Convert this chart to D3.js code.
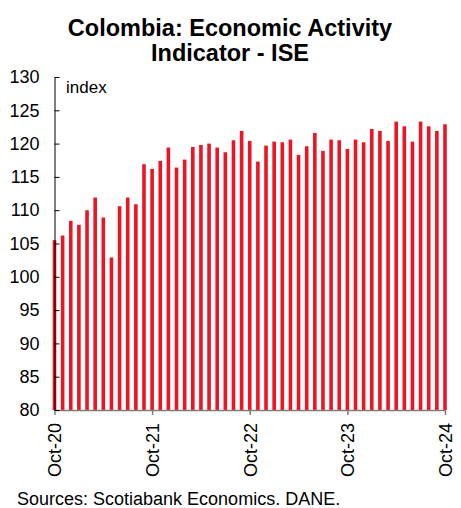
<!DOCTYPE html>
<html>
<head>
<meta charset="utf-8">
<script src="https://cdn.jsdelivr.net/npm/d3@7"></script>
<style>
  body { margin: 0; background: #fff; }
  text { font-family: "Liberation Sans", Arial, sans-serif; }
</style>
</head>
<body>
<div id="chart"></div>
<script>
// monthly ISE index, Oct-20 .. Oct-24
const months = ["Oct-20","Nov-20","Dec-20","Jan-21","Feb-21","Mar-21","Apr-21","May-21","Jun-21","Jul-21","Aug-21","Sep-21",
                "Oct-21","Nov-21","Dec-21","Jan-22","Feb-22","Mar-22","Apr-22","May-22","Jun-22","Jul-22","Aug-22","Sep-22",
                "Oct-22","Nov-22","Dec-22","Jan-23","Feb-23","Mar-23","Apr-23","May-23","Jun-23","Jul-23","Aug-23","Sep-23",
                "Oct-23","Nov-23","Dec-23","Jan-24","Feb-24","Mar-24","Apr-24","May-24","Jun-24","Jul-24","Aug-24","Sep-24",
                "Oct-24"];
const ise = [105.5, 106.2, 108.4, 107.8, 110.0, 111.9, 108.9, 102.9, 110.6, 111.9, 110.9, 116.9,
             116.2, 117.4, 119.4, 116.4, 117.6, 119.5, 119.8, 120.0, 119.4, 118.7, 120.5, 121.9,
             120.4, 117.3, 119.7, 120.3, 120.2, 120.6, 118.3, 119.6, 121.6, 118.9, 120.6, 120.5,
             119.2, 120.6, 120.2, 122.2, 121.9, 120.4, 123.3, 122.6, 120.3, 123.3, 122.6, 121.9,
             122.9];
const xTickLabels = ["Oct-20", "Oct-21", "Oct-22", "Oct-23", "Oct-24"];
const yTicks = [80, 85, 90, 95, 100, 105, 110, 115, 120, 125, 130];

const W = 461, H = 508;
const svg = d3.select("#chart").append("svg")
    .attr("width", W)
    .attr("height", H);

const x = d3.scalePoint()
    .domain(months)
    .range([54.5, 445]);

const y = d3.scaleLinear()
    .domain([80, 130])
    .range([410, 77]);

    // title
svg.append("text")
    .attr("x", 230).attr("y", 36)
    .attr("text-anchor", "middle")
    .style("font-size", "23.5px").style("font-weight", "bold")
    .text("Colombia: Economic Activity");
svg.append("text")
    .attr("x", 230).attr("y", 61)
    .attr("text-anchor", "middle")
    .style("font-size", "23.5px").style("font-weight", "bold")
    .text("Indicator - ISE");

    // bars
const barW = 3.6;
svg.selectAll("rect.bar")
    .data(ise)
    .enter()
    .append("rect")
    .attr("class", "bar")
    .attr("x", (d, i) => x(months[i]) - barW / 2)
    .attr("y", d => y(d))
    .attr("width", barW)
    .attr("height", d => y(80) - y(d))
    .attr("fill", "#ec1523");

    // x axis
const gx = svg.append("g")
    .attr("transform", `translate(0,${y(80)})`)
    .call(d3.axisBottom(x).tickValues(xTickLabels).tickSize(5).tickPadding(8).tickSizeOuter(0));
gx.select(".domain").attr("stroke", "#7f7f7f").attr("stroke-width", 1.5);
gx.selectAll(".tick line").attr("stroke", "#7f7f7f").attr("stroke-width", 1.5);
gx.selectAll(".tick text")
    .attr("transform", "rotate(-90)")
    .attr("x", -13).attr("y", 0).attr("dy", "0.35em")
    .style("text-anchor", "end")
    .style("font-size", "18px")
    .attr("fill", "#000");

    // y axis, ticks pointing inward
const gy = svg.append("g")
    .attr("transform", `translate(54.5,0)`)
    .call(d3.axisRight(y).tickValues(yTicks).tickSize(5).tickSizeOuter(0).tickFormat(d3.format("d")));
gy.select(".domain").attr("stroke", "#000");
gy.selectAll(".tick line").attr("stroke", "#000");
gy.selectAll(".tick text")
    .attr("x", -15)
    .style("text-anchor", "end")
    .style("font-size", "18px")
    .attr("fill", "#000");

svg.append("text")
    .attr("x", 66).attr("y", 93)
    .style("font-size", "17px")
    .text("index");

    // source
svg.append("text")
    .attr("x", 17).attr("y", 505)
    .style("font-size", "18px")
    .text("Sources: Scotiabank Economics. DANE.");
</script>
</body>
</html>
